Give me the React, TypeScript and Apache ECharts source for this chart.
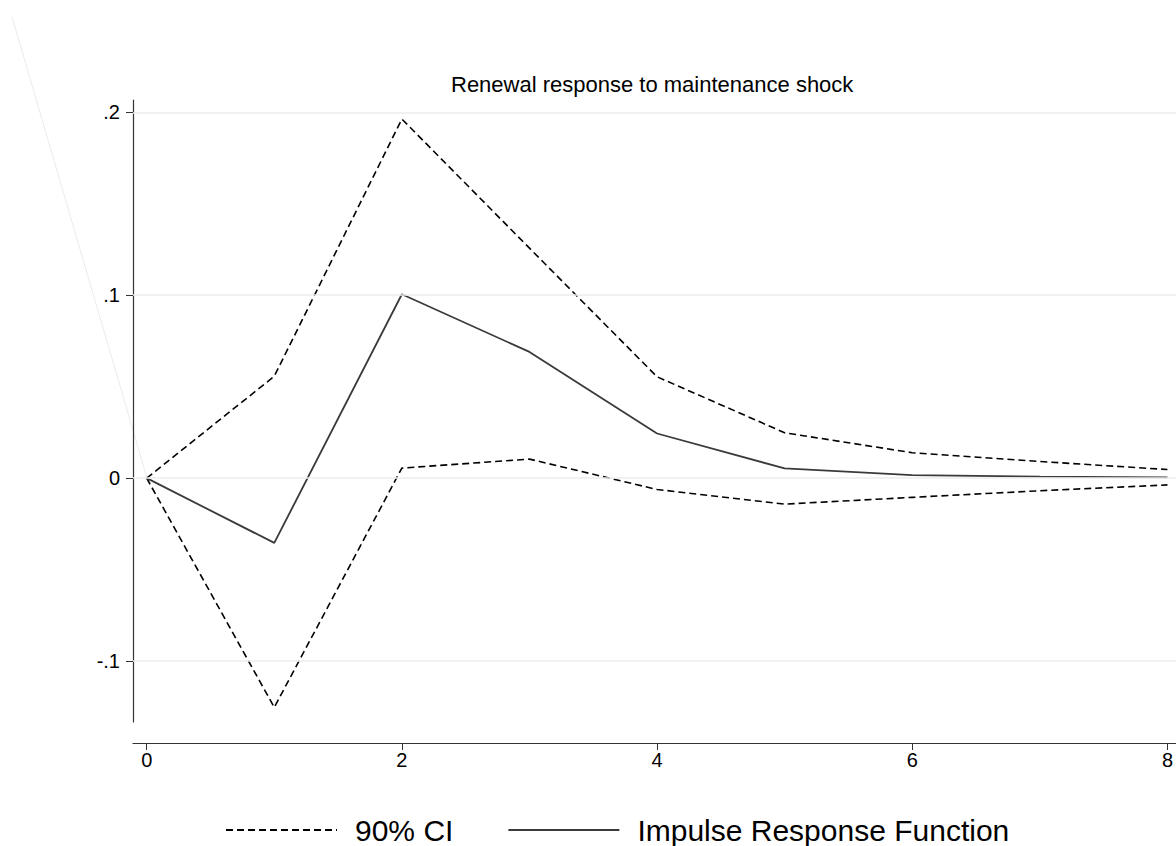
import React, { useEffect, useRef } from "react";
import * as echarts from "echarts";

const periods = [0, 1, 2, 3, 4, 5, 6, 7, 8];
const irf = [0, -0.0354, 0.1005, 0.069, 0.0244, 0.0053, 0.0016, 0.0008, 0.0004];
const ciUpper = [0, 0.0557, 0.1963, 0.1257, 0.0554, 0.0248, 0.0139, 0.0091, 0.0047];
const ciLower = [0, -0.1253, 0.0055, 0.0104, -0.0062, -0.0142, -0.0105, -0.0069, -0.0037];
const yTicks = [-0.1, 0, 0.1, 0.2];
const xTicks = [0, 2, 4, 6, 8];
const titleText = "Renewal response to maintenance shock";
const ciName = "90% CI";
const irfName = "Impulse Response Function";

const FONT = "'Liberation Sans', Arial, Helvetica, sans-serif";

function fmtY(v: number): string {
  if (Math.abs(v) < 1e-9) return "0";
  return String(Math.round(v * 1000) / 1000).replace("0.", ".");
}

export default function App() {
  const ref = useRef<HTMLDivElement>(null);
  useEffect(() => {
    if (!ref.current) return;
    const chart = echarts.init(ref.current, null, { renderer: "svg" });
    const pair = (arr: number[]) => periods.map((p, i) => [p, arr[i]]);
    chart.setOption({
      animation: false,
      backgroundColor: "#ffffff",
      textStyle: { fontFamily: FONT },
      title: {
        text: titleText,
        left: 446,
        top: 68,
        textStyle: { fontFamily: FONT, fontSize: 22, fontWeight: "normal", color: "#000" },
      },
      legend: {
        data: [ciName, irfName],
        left: 225,
        top: 815,
        padding: 0,
        itemWidth: 111,
        itemHeight: 14,
        itemGap: 54,
        itemStyle: { opacity: 0 },
        textStyle: {
          fontFamily: FONT,
          fontSize: 30,
          lineHeight: 30,
          color: "#000",
          padding: [0, 0, 0, 13],
        },
      },
      grid: { left: 133, right: 0, top: 100, bottom: 124, containLabel: false },
      xAxis: {
        type: "value",
        min: -0.1073,
        max: 8.065,
        offset: 21,
        axisLine: { show: true, onZero: false, lineStyle: { color: "#333", width: 1.2 } },
        axisTick: { show: true, length: 7, customValues: xTicks, lineStyle: { color: "#333" } },
        axisLabel: { customValues: xTicks, fontSize: 20, color: "#000", margin: 7, fontFamily: FONT },
        splitLine: { show: false },
      },
      yAxis: {
        type: "value",
        min: -0.1333,
        max: 0.2067,
        axisLine: { show: true, onZero: false, lineStyle: { color: "#333", width: 1.2 } },
        axisTick: { show: true, length: 7, customValues: yTicks, lineStyle: { color: "#333" } },
        axisLabel: {
          customValues: yTicks,
          fontSize: 20,
          color: "#000",
          margin: 13,
          fontFamily: FONT,
          formatter: (v: number) => fmtY(v),
        },
        splitLine: { show: false },
      },
      graphic: [
        {
          type: "line",
          shape: { x1: 12, y1: 17, x2: 147, y2: 478 },
          style: { stroke: "#ebebeb", lineWidth: 1 },
          z: 0,
          silent: true,
        },
      ],
      series: [
        {
          type: "line",
          name: "grid",
          data: [],
          z: 1,
          silent: true,
          markLine: {
            silent: true,
            symbol: ["none", "none"],
            label: { show: false },
            lineStyle: { color: "#ececec", type: "solid", width: 1.5 },
            data: yTicks.map((v) => ({ yAxis: v })),
          },
        },
        {
          type: "line",
          name: ciName,
          data: pair(ciUpper),
          z: 3,
          showSymbol: false,
          symbol: "none",
          color: "#000",
          lineStyle: { color: "#000", width: 1.6, type: [7, 4] },
        },
        {
          type: "line",
          name: ciName,
          data: pair(ciLower),
          z: 3,
          showSymbol: false,
          symbol: "none",
          color: "#000",
          lineStyle: { color: "#000", width: 1.6, type: [7, 4] },
        },
        {
          type: "line",
          name: irfName,
          data: pair(irf),
          z: 3,
          showSymbol: false,
          symbol: "none",
          color: "#3a3a3a",
          lineStyle: { color: "#3a3a3a", width: 1.8, type: "solid" },
        },
      ],
    });
    return () => chart.dispose();
  }, []);
  return (
    <div
      ref={ref}
      style={{ position: "absolute", left: 0, top: 0, width: 1176, height: 846 }}
    />
  );
}
